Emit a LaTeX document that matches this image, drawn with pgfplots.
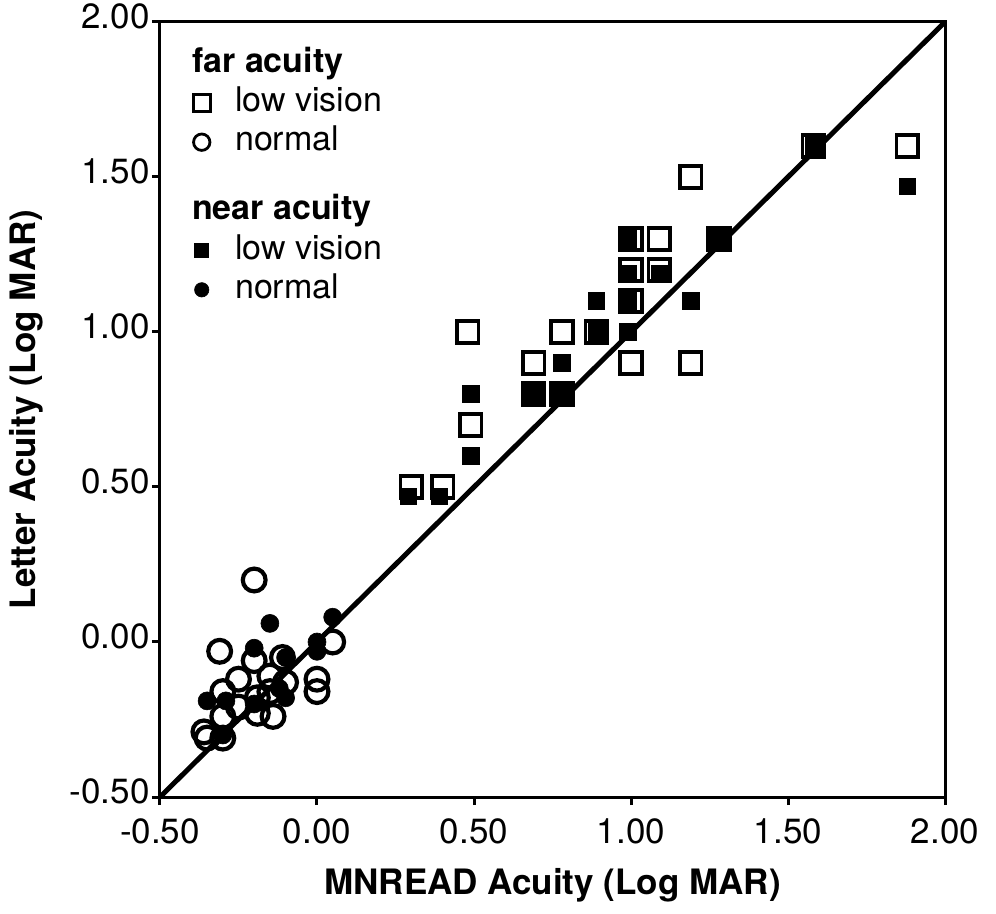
\documentclass[border=0pt]{standalone}
\usepackage{fontspec}
\setmainfont{TeX Gyre Heros}
\usepackage{pgfplots}
\pgfplotsset{compat=1.18}

\begin{document}
\begin{tikzpicture}
\begin{axis}[
  scale only axis,
  width=392.5bp, height=387.5bp,
  xmin=-0.5, xmax=2, ymin=-0.5, ymax=2,
  xtick={-0.5,0,0.5,1,1.5,2},
  ytick={-0.5,0,0.5,1,1.5,2},
  /pgf/number format/assume math mode=true,
  /pgf/number format/fixed,
  /pgf/number format/fixed zerofill,
  /pgf/number format/precision=2,
  tick pos=left, tick align=outside,
  major tick length=4bp,
  axis line style={line width=1.5bp},
  every tick/.style={black, line width=1.5bp},
  ticklabel style={font=\fontsize{17.5bp}{20bp}\selectfont},
  yticklabel style={anchor=east, inner sep=1bp, yshift=3bp},
  xticklabel style={yshift=-3.5bp},
  xlabel={\textbf{MNREAD Acuity (Log MAR)}},
  ylabel={\textbf{Letter Acuity (Log MAR)}},
  label style={font=\fontsize{17.5bp}{20bp}\selectfont},
  xlabel style={yshift=-5bp},
  ylabel shift=9bp,
  legend style={draw=none, fill=none, at={(0.028,0.977)}, anchor=north west,
    font=\fontsize{17bp}{20bp}\selectfont, row sep=0bp,
    nodes={inner sep=1bp, text height=13bp, text depth=4.6bp}},
  legend cell align=left,
  legend image code/.code={\draw[#1] plot coordinates {(6bp,0bp)};
    \path (0bp,0bp) (21bp,0bp);},
]
% legend entries only
\addlegendimage{empty legend}
\addlegendentry{\hspace*{-21.5bp}\textbf{far acuity}}
\addlegendimage{only marks, mark=square, mark size=4.2bp, line width=1.4bp, black}
\addlegendentry{low vision}
\addlegendimage{only marks, mark=o, mark size=4.1bp, line width=1.4bp, black}
\addlegendentry{normal}
\addlegendimage{empty legend}
\addlegendentry[text height=28bp]{\hspace*{-21.5bp}\textbf{near acuity}}
\addlegendimage{only marks, mark=square*, mark size=3.5bp, line width=0.3bp, black}
\addlegendentry{low vision}
\addlegendimage{only marks, mark=*, mark size=3.6bp, line width=0.3bp, black}
\addlegendentry{normal}

% identity line
\addplot[forget plot, black, line width=2.5bp] coordinates {(-0.5,-0.5) (2,2)};

% far acuity, low vision (open squares)
\addplot[forget plot, only marks, mark=square*, mark size=5.4bp,
  mark options={fill=white, draw=black, line width=1.8bp}] coordinates {
  (0.30,0.50) (0.40,0.50) (0.48,1.00) (0.49,0.70) (0.69,0.90) (0.69,0.80)
  (0.78,1.00) (0.78,0.80) (0.89,1.00) (1.00,1.30) (1.00,1.20) (1.00,1.10)
  (1.00,0.90) (1.09,1.30) (1.09,1.20) (1.19,1.50) (1.19,0.90) (1.28,1.30)
  (1.58,1.60) (1.88,1.60)
};
% near acuity, low vision (filled squares)
\addplot[forget plot, only marks, mark=square*, mark size=4.1bp,
  mark options={fill=black, draw=black, line width=0.3bp}] coordinates {
  (0.29,0.47) (0.39,0.47) (0.49,0.80) (0.49,0.60) (0.69,0.80) (0.78,0.90)
  (0.78,0.80) (0.89,1.10) (0.89,1.00) (0.99,1.30) (0.99,1.19) (0.99,1.10)
  (0.99,1.00) (1.09,1.19) (1.19,1.10) (1.28,1.30) (1.58,1.60) (1.88,1.47)
};
% near acuity, normal (filled circles)
\addplot[forget plot, only marks, mark=*, mark size=4.5bp,
  mark options={fill=black, draw=black, line width=0.3bp}] coordinates {
  (-0.15,0.06) (-0.20,-0.02) (0.05,0.08) (0.00,0.00) (0.00,-0.03) (-0.10,-0.05)
  (-0.35,-0.19) (-0.29,-0.19) (-0.10,-0.18) (-0.20,-0.20) (-0.30,-0.30) (-0.12,-0.15)
};
% far acuity, normal (open circles)
\addplot[forget plot, only marks, mark=o, mark size=5.7bp,
  mark options={draw=black, line width=2.1bp}] coordinates {
  (-0.20,0.20) (-0.31,-0.03) (-0.20,-0.06) (-0.11,-0.05) (0.05,0.00) (0.00,-0.12)
  (0.00,-0.16) (-0.25,-0.12) (-0.30,-0.16) (-0.15,-0.11) (-0.10,-0.13) (-0.19,-0.18)
  (-0.25,-0.21) (-0.30,-0.24) (-0.19,-0.23) (-0.14,-0.24) (-0.36,-0.29) (-0.30,-0.31)
  (-0.15,-0.16) (-0.35,-0.31)
};
\end{axis}
\path[use as bounding box] (-80bp,-58.5bp) rectangle (418bp,398.5bp);
\end{tikzpicture}
\end{document}
